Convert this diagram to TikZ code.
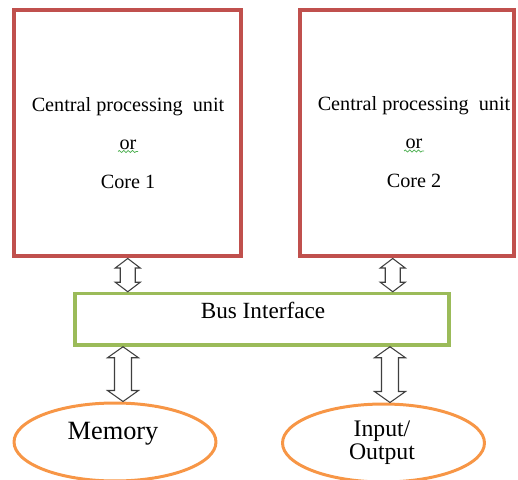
\documentclass[tikz,border=0pt]{standalone}
\usepackage{fontspec}
\setmainfont{Liberation Serif}
\usepackage{tikz}
\usetikzlibrary{positioning,calc,shapes.geometric,decorations.pathmorphing}

\definecolor{cpured}{HTML}{C0504D}
\definecolor{busgreen}{HTML}{9BBB59}
\definecolor{memorange}{HTML}{F79646}
\definecolor{arrowgray}{HTML}{3F3F3F}
\definecolor{spellgreen}{HTML}{4CAF50}

\tikzset{
  cpubox/.style={draw=cpured, line width=2.3pt, minimum width=4.55cm, minimum height=4.94cm, inner sep=0pt},
  busbox/.style={draw=busgreen, line width=2pt, minimum width=7.48cm, minimum height=1.03cm, inner sep=0pt},
  store/.style={draw=memorange, line width=1.7pt, ellipse, minimum width=4.04cm, minimum height=1.56cm, inner sep=0pt},
  cputext/.style={align=center, font=\fontsize{11.5}{14}\selectfont},
  wavy/.style={draw=spellgreen, line width=0.4pt, decorate, decoration={snake, amplitude=0.6pt, segment length=2.5pt}},
  dblarrow/.style n args={3}{draw=arrowgray, line width=0.6pt, fill=white,
    to path={let \p1=(\tikztostart), \p2=(\tikztotarget) in
      (\x1,\y1) -- (\x1+#1,\y1-#3) -- (\x1+#2,\y1-#3) -- (\x1+#2,\y2+#3) -- (\x1+#1,\y2+#3)
      -- (\x1,\y2) -- (\x1-#1,\y2+#3) -- (\x1-#2,\y2+#3) -- (\x1-#2,\y1-#3) -- (\x1-#1,\y1-#3) -- cycle}}
}

\begin{document}
\begin{tikzpicture}[x=0.02cm, y=-0.02cm]
    \path[use as bounding box, clip] (0,0) rectangle (518,480);

    % two cores
    \node[cpubox] (cpu1) at (127.75,133) {};
    \node[cputext] (cpu1txt) at (128,143) {Central processing~ unit\\[8pt] or\\[8pt] Core 1};
    \node[cpubox, minimum width=4.29cm] (cpu2) at (406.75,133) {};
    \node[cputext] (cpu2txt) at (414,142) {Central processing~ unit\\[8pt] or\\[8pt] Core 2};
    \coordinate (or1a) at (118,151.5);
    \coordinate (or1b) at (138,151.5);
    \coordinate (or2a) at (404,151);
    \coordinate (or2b) at (424,151);
    \draw[wavy] (or1a) -- (or1b);
    \draw[wavy] (or2a) -- (or2b);

    % shared bus
    \node[busbox] (bus) at (262,319.25) {};
    \node[font=\fontsize{13.2}{16}\selectfont] (bustxt) at (263,310) {Bus Interface};

    % memory and i/o
    \node[store] (mem) at (115,442) {};
    \node[font=\fontsize{15}{18}\selectfont] (memtxt) at (113,434) {Memory};
    \node[store] (io) at (383.5,443) {};
    \node[align=center, font=\fontsize{13.5}{13}\selectfont] (iotxt) at (382,443) {Input/\\Output};

    \coordinate (cpu2out) at ($(cpu2.south)+(-14,0)$);
    \coordinate (memin) at ($(mem.north)+(8,0)$);
    \coordinate (ioin) at ($(io.north)+(6.5,0)$);

    \draw[dblarrow={0.25cm}{0.15cm}{0.19cm}] (cpu1.south) to (cpu1.south |- bus.north);
    \draw[dblarrow={0.25cm}{0.15cm}{0.19cm}] (cpu2out) to (cpu2out |- bus.north);
    \draw[dblarrow={0.31cm}{0.17cm}{0.22cm}] (memin |- bus.south) to (memin);
    \draw[dblarrow={0.31cm}{0.17cm}{0.22cm}] (ioin |- bus.south) to (ioin);
\end{tikzpicture}
\end{document}
